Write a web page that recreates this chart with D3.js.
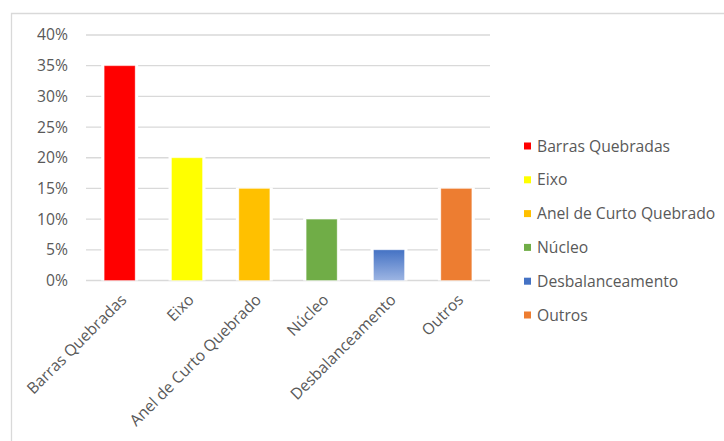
<!DOCTYPE html>
<html>
<head>
<meta charset="utf-8">
<script src="https://cdn.jsdelivr.net/npm/d3@7"></script>
<style>
  body { margin: 0; background: #fff; }
  text { font-family: "Open Sans", Lato, sans-serif; fill: #595959; }
</style>
</head>
<body>
<script>
// categories and values
const categories = ["Barras Quebradas", "Eixo", "Anel de Curto Quebrado", "Núcleo", "Desbalanceamento", "Outros"];
const values = [0.35, 0.20, 0.15, 0.10, 0.05, 0.15];
const colors = ["#FF0000", "#FFFF00", "#FFC000", "#70AD47", "url(#blueGrad)", "#ED7D31"];
const legendColors = ["#FF0000", "#FFFF00", "#FFC000", "#70AD47", "#4472C4", "#ED7D31"];
const yTicks = [0, 0.05, 0.10, 0.15, 0.20, 0.25, 0.30, 0.35, 0.40];

const svgWidth = 724;
const svgHeight = 441;
const fontSize = "15.7px";

// plot area
const plot = { left: 86, right: 490, top: 35, bottom: 280.5 };

const svg = d3.select("body").append("svg")
  .attr("width", svgWidth)
  .attr("height", svgHeight);

// gradient for Desbalanceamento bar
const grad = svg.append("defs").append("linearGradient")
  .attr("id", "blueGrad")
  .attr("x1", 0).attr("y1", 0).attr("x2", 0).attr("y2", 1);
grad.append("stop").attr("offset", "0%").attr("stop-color", "#4472C4");
grad.append("stop").attr("offset", "100%").attr("stop-color", "#9DB5E3");

// chart frame (top and left edges visible)
svg.append("path")
  .attr("d", `M11.5,${svgHeight} V13.5 H${svgWidth}`)
  .attr("fill", "none")
  .attr("stroke", "#d9d9d9")
  .attr("stroke-width", 1.3);

const x = d3.scaleBand()
  .domain(categories)
  .range([plot.left, plot.right])
  .padding(0);

const y = d3.scaleLinear()
  .domain([0, 0.4])
  .range([plot.bottom, plot.top]);

const barWidth = x.bandwidth() * 0.46;

// gridlines
svg.append("g")
  .selectAll("line")
  .data(yTicks)
  .enter()
  .append("line")
  .attr("x1", plot.left)
  .attr("x2", plot.right)
  .attr("y1", (d) => y(d))
  .attr("y2", (d) => y(d))
  .attr("stroke", "#d9d9d9")
  .attr("stroke-width", 1.3);

// y labels
svg.append("g")
  .selectAll("text")
  .data(yTicks)
  .enter()
  .append("text")
  .attr("x", 68)
  .attr("y", (d) => y(d))
  .attr("dy", "0.35em")
  .attr("text-anchor", "end")
  .attr("font-size", fontSize)
  .text((d) => d3.format(".0%")(d));

const barX = (d, i) => x(categories[i]) + (x.bandwidth() - barWidth) / 2;

// white gaps behind the bars
svg.append("g")
  .selectAll("rect")
  .data(values)
  .enter()
  .append("rect")
  .attr("x", (d, i) => barX(d, i) - 3)
  .attr("y", (d) => y(d) - 1)
  .attr("width", barWidth + 6)
  .attr("height", (d) => y(0) - y(d) + 1)
  .attr("fill", "#fff");

svg.append("g")
  .selectAll("rect")
  .data(values)
  .enter()
  .append("rect")
  .attr("x", barX)
  .attr("y", (d) => y(d))
  .attr("width", barWidth)
  .attr("height", (d) => y(0) - y(d))
  .attr("fill", (d, i) => colors[i])
  .attr("stroke", "rgba(255,255,255,0.35)")
  .attr("stroke-width", 1);

// rotated category labels
svg.append("g")
  .selectAll("text")
  .data(categories)
  .enter()
  .append("text")
  .attr("text-anchor", "end")
  .attr("font-size", fontSize)
  .attr("transform", (d) => `translate(${x(d) + x.bandwidth() / 2 + 4}, 297) rotate(-45)`)
  .attr("dy", "0.35em")
  .text((d) => d);

// legend
const legend = svg.append("g")
  .selectAll("g")
  .data(categories)
  .enter()
  .append("g")
  .attr("transform", (d, i) => `translate(524, ${146 + i * 33.8})`);

legend.append("rect")
  .attr("x", 0)
  .attr("y", -3.5)
  .attr("width", 7)
  .attr("height", 7)
  .attr("fill", (d, i) => legendColors[i]);

legend.append("text")
  .attr("x", 13)
  .attr("y", 0)
  .attr("dy", "0.35em")
  .attr("font-size", fontSize)
  .text((d) => d);
</script>
</body>
</html>
